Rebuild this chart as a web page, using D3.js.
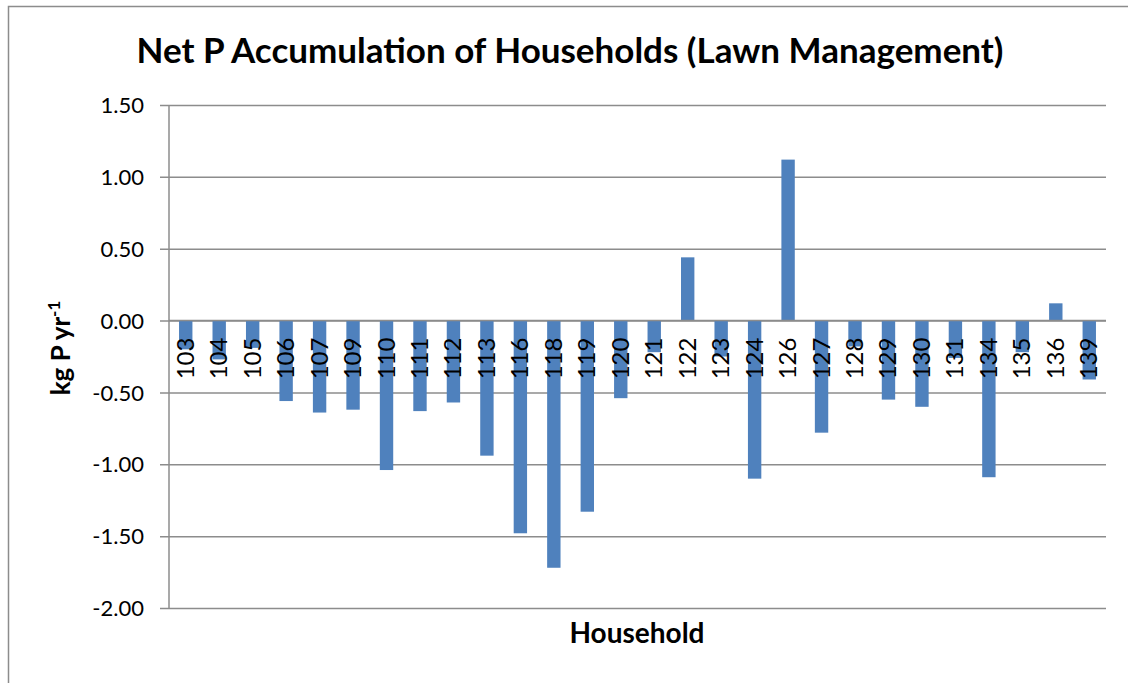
<!DOCTYPE html>
<html>
<head>
<meta charset="utf-8">
<script src="https://cdn.jsdelivr.net/npm/d3@7"></script>
<style>
  body { margin: 0; background: #fff; }
  text { font-family: Lato, "Open Sans", sans-serif; fill: #000; }
</style>
</head>
<body>
<script>
// chart data
var households = ["103","104","105","106","107","109","110","111","112","113","116","118","119","120",
                  "121","122","123","124","126","127","128","129","130","131","134","135","136","139"];
var netP = [-0.20,-0.27,-0.19,-0.56,-0.64,-0.62,-1.04,-0.63,-0.57,-0.94,-1.48,-1.72,-1.33,-0.54,
            -0.22,0.44,-0.25,-1.10,1.12,-0.78,-0.18,-0.55,-0.60,-0.26,-1.09,-0.22,0.12,-0.41];
var yTicks = [1.5, 1.0, 0.5, 0.0, -0.5, -1.0, -1.5, -2.0];

var W = 1128, H = 683;
var margin = {top: 105, right: 22, bottom: 75, left: 169},
    width = W - margin.left - margin.right,
    height = H - margin.top - margin.bottom;

var svg = d3.select("body").append("svg")
    .attr("width", W)
    .attr("height", H);

// outer chart frame (runs off the right and bottom edges)
svg.append("rect")
    .attr("x", 8.5).attr("y", 6.5)
    .attr("width", 1140).attr("height", 700)
    .attr("fill", "none")
    .attr("stroke", "#8c8c8c")
    .attr("stroke-width", 1.5);

var g = svg.append("g")
    .attr("transform", "translate(" + margin.left + "," + margin.top + ")");

var x = d3.scaleBand()
    .domain(households)
    .range([0, width])
    .paddingInner(0.6)
    .paddingOuter(0.3);

var y = d3.scaleLinear()
    .domain([-2, 1.5])
    .range([503, 0]);

var fmt = d3.format(".2f");

// gridlines + left ticks
var yAxis = d3.axisLeft(y)
    .tickValues(yTicks)
    .tickSize(-width)
    .tickPadding(25)
    .tickFormat(function(d) { return fmt(d).replace("\u2212", "-"); });

var ya = g.append("g").call(yAxis);
ya.select(".domain").remove();
ya.selectAll(".tick line")
    .attr("x1", -9)
    .attr("stroke", "#8c8c8c")
    .attr("stroke-width", 1.5);
ya.selectAll(".tick text")
    .style("font-size", "22px")
    .style("font-family", "Lato, sans-serif")
    .attr("dy", "0.35em");

// vertical axis line
g.append("line")
    .attr("x1", 0).attr("x2", 0)
    .attr("y1", y(1.5)).attr("y2", y(-2))
    .attr("stroke", "#8c8c8c")
    .attr("stroke-width", 1.5);

// bars
g.selectAll(".bar")
    .data(households)
    .join("rect")
    .attr("class", "bar")
    .attr("x", function(d) { return x(d); })
    .attr("width", x.bandwidth())
    .attr("y", function(d, i) { return y(Math.max(0, netP[i])); })
    .attr("height", function(d, i) { return Math.abs(y(netP[i]) - y(0)); })
    .attr("fill", "#4f81bd");

// zero line over the bars
g.append("line")
    .attr("x1", 0).attr("x2", width)
    .attr("y1", y(0)).attr("y2", y(0))
    .attr("stroke", "#8c8c8c")
    .attr("stroke-width", 1.5);

// category labels, rotated, next to the axis
g.selectAll(".cat")
    .data(households)
    .join("text")
    .attr("class", "cat")
    .attr("transform", function(d) {
        return "translate(" + (x(d) + x.bandwidth() / 2 + 8) + "," + (y(0) + 17) + ") rotate(-90)";
    })
    .attr("text-anchor", "end")
    .style("font-size", "24px")
    .text(function(d) { return d; });

// title
svg.append("text")
    .attr("x", 570).attr("y", 63)
    .attr("text-anchor", "middle")
    .style("font-size", "35px")
    .style("font-weight", "bold")
    .text("Net P Accumulation of Households (Lawn Management)");

// axis titles
svg.append("text")
    .attr("x", 637).attr("y", 643)
    .attr("text-anchor", "middle")
    .style("font-size", "28px")
    .style("font-weight", "bold")
    .text("Household");

var yt = svg.append("text")
    .attr("transform", "translate(70,348) rotate(-90)")
    .attr("text-anchor", "middle")
    .style("font-size", "26px")
    .style("font-weight", "bold");
yt.append("tspan").text("kg P yr");
yt.append("tspan").attr("dy", -10).style("font-size", "17px").text("-1");
</script>
</body>
</html>
